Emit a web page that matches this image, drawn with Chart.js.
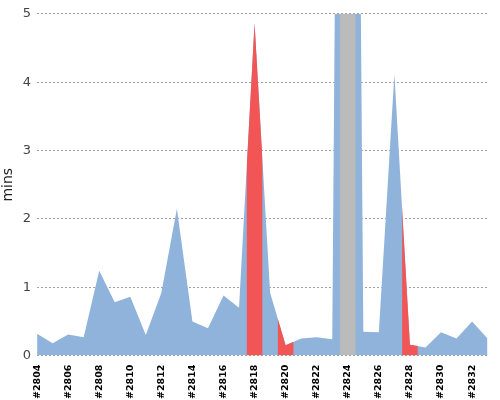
<!DOCTYPE html>
<html><head>
<script src="https://cdn.jsdelivr.net/npm/chart.js@4"></script>
<style>body{margin:0;background:#fff}#wrap{width:500px;height:400px}</style>
</head><body><div id="wrap"><canvas id="c"></canvas></div>
<script>
const builds = [2804,2805,2806,2807,2808,2809,2810,2811,2812,2813,2814,2815,2816,2817,2818,2819,2820,2821,2822,2823,2824,2825,2826,2827,2828,2829,2830,2831,2832,2833];
const mins = [0.32,0.18,0.31,0.27,1.24,0.78,0.86,0.3,0.92,2.15,0.5,0.4,0.88,0.7,4.86,0.92,0.15,0.25,0.27,0.24,30,0.35,0.34,4.12,0.16,0.12,0.34,0.25,0.5,0.25];
const failed = [2818,2820,2828];
const aborted = [2824];
const yTicks = [0,1,2,3,4,5];

const pts = builds.map((b,i) => ({x:b, y:mins[i]}));

// fill the area again, clipped to the bands of failed / aborted builds
const bandFill = {
  id: 'bandFill',
  afterDatasetsDraw(chart) {
    const {ctx, chartArea, scales} = chart;
    const meta = chart.getDatasetMeta(0);
    const base = scales.y.getPixelForValue(0);
    [[failed, '#f25555'], [aborted, '#bbbbbb']].forEach(([list, color]) => {
      ctx.save();
      ctx.beginPath();
      ctx.rect(chartArea.left, chartArea.top, chartArea.right - chartArea.left, chartArea.bottom - chartArea.top);
      ctx.clip();
      ctx.beginPath();
      list.forEach(b => {
        const x0 = scales.x.getPixelForValue(b - 0.5);
        const x1 = scales.x.getPixelForValue(b + 0.5);
        ctx.rect(x0, chartArea.top, x1 - x0, chartArea.bottom - chartArea.top);
      });
      ctx.clip();
      ctx.beginPath();
      meta.data.forEach((p, i) => i ? ctx.lineTo(p.x, p.y) : ctx.moveTo(p.x, p.y));
      ctx.lineTo(meta.data[meta.data.length-1].x, base);
      ctx.lineTo(meta.data[0].x, base);
      ctx.closePath();
      ctx.fillStyle = color;
      ctx.fill();
      ctx.restore();
    });
  }
};

new Chart(document.getElementById('c'), {
  type: 'line',
  data: { datasets: [{
    data: pts, fill: 'origin', backgroundColor: '#90b3db', borderWidth: 0,
    pointRadius: 0, tension: 0
  }] },
  plugins: [bandFill],
  options: {
    responsive: true, maintainAspectRatio: false, animation: false,
    layout: { padding: { top: 6, right: 2 } },
    plugins: { legend: { display: false }, tooltip: { enabled: false } },
    scales: {
      x: {
        type: 'linear', min: builds[0], max: builds[builds.length-1],
        grid: { display: false, drawTicks: true },
        border: { display: false },
        afterBuildTicks: axis => { axis.ticks = builds.map(v => ({value: v})); },
        ticks: {
          autoSkip: false, maxRotation: 90, minRotation: 90, padding: 1,
          color: '#000', font: { family: 'DejaVu Sans', size: 9.5, weight: 'bold' },
          callback: v => (v % 2 === 0) ? '#' + v : ''
        }
      },
      y: {
        min: 0, max: 5,
        afterBuildTicks: axis => { axis.ticks = yTicks.map(v => ({value: v})); },
        grid: { color: '#777', lineWidth: 0.7, drawTicks: false },
        border: { display: false, dash: [2, 2] },
        ticks: { color: '#444', padding: 6, font: { family: 'DejaVu Sans', size: 13 } },
        title: { display: true, text: 'mins', color: '#222', padding: 0, font: { family: 'DejaVu Sans', size: 14 } }
      }
    }
  }
});
</script></body></html>
